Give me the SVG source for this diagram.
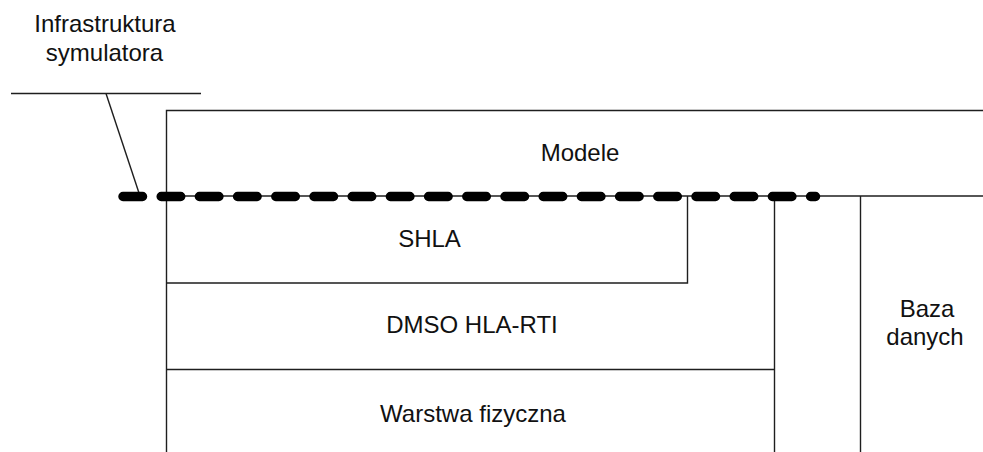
<svg xmlns="http://www.w3.org/2000/svg" width="983" height="452" viewBox="0 0 983 452">
  <style>
    .ln { fill: none; stroke: #1e1e1e; stroke-width: 1.4; }
    .dash { fill: none; stroke: #000; stroke-width: 9.5; stroke-linecap: round; stroke-dasharray: 19.5 18.7; }
    .lbl { font-family: "Liberation Sans", Arial, sans-serif; font-size: 24px; fill: #111; text-anchor: middle; }
  </style>
  <rect width="983" height="452" fill="#fff"/>

  <g id="callout">
    <line class="ln" x1="11" y1="93.5" x2="201" y2="93.5"/>
    <line class="ln" x1="106" y1="93.5" x2="139" y2="193"/>
    <text class="lbl" x="105" y="32">Infrastruktura</text>
    <text class="lbl" x="104.5" y="61">symulatora</text>
  </g>

  <g id="modele">
    <polyline class="ln" points="983,110.5 166.5,110.5 166.5,452"/>
    <line class="ln" x1="166.5" y1="196" x2="983" y2="196"/>
    <text class="lbl" x="580" y="161">Modele</text>
  </g>

  <g id="shla">
    <polyline class="ln" points="687.5,196 687.5,283 166.5,283"/>
    <text class="lbl" x="429.5" y="247">SHLA</text>
  </g>

  <g id="dmso">
    <line class="ln" x1="774.5" y1="196" x2="774.5" y2="452"/>
    <line class="ln" x1="166.5" y1="369.5" x2="774.5" y2="369.5"/>
    <text class="lbl" x="472" y="333">DMSO HLA-RTI</text>
  </g>

  <g id="warstwa">
    <text class="lbl" x="473" y="422">Warstwa fizyczna</text>
  </g>

  <g id="baza">
    <line class="ln" x1="860.5" y1="196" x2="860.5" y2="452"/>
    <text class="lbl" x="927" y="317">Baza</text>
    <text class="lbl" x="925" y="345">danych</text>
  </g>

  <g id="connectors">
    <line class="dash" x1="123" y1="196.5" x2="815.5" y2="196.5"/>
  </g>
</svg>
